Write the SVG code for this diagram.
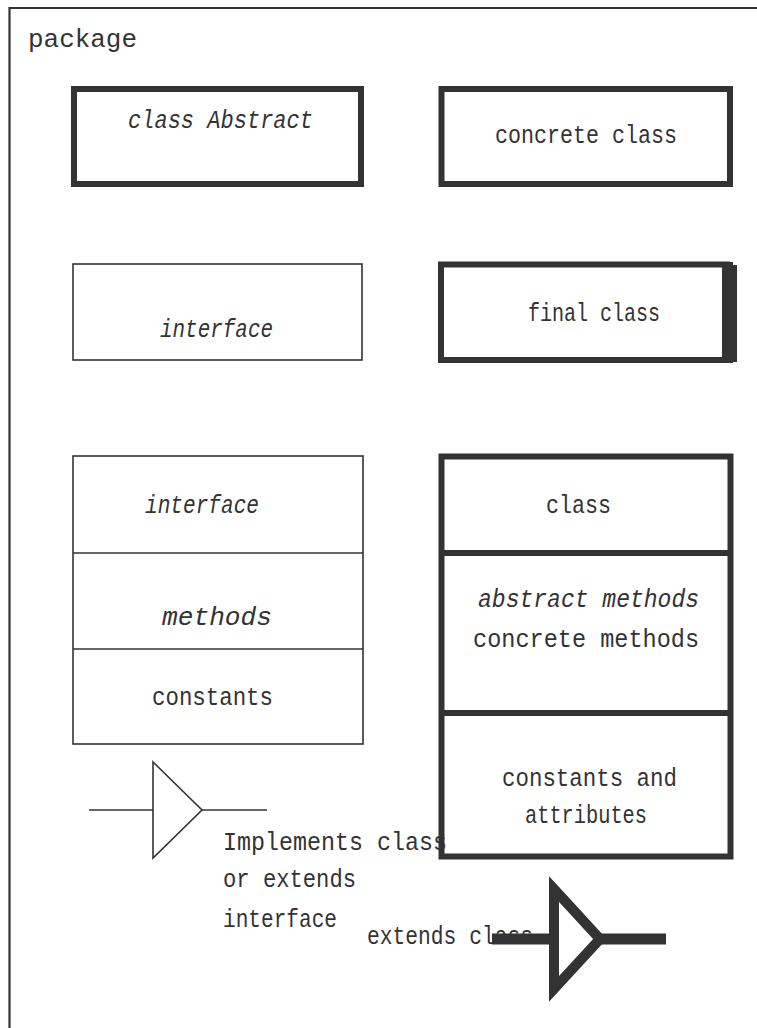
<svg xmlns="http://www.w3.org/2000/svg" width="757" height="1028" viewBox="0 0 757 1028">
<style>
  text { font-family: "Liberation Mono", "Courier New", monospace; font-size: 26px; fill: #333; }
  .it { font-style: italic; }
  .thin { fill: none; stroke: #333; stroke-width: 1.6; }
  .thick { fill: none; stroke: #333; stroke-width: 6; }
  .bar { fill: #333; }
</style>
<rect width="757" height="1028" fill="#fff"/>

<g id="package">
  <path d="M757,8 H9.5 V1028" fill="none" stroke="#333" stroke-width="2.2"/>
  <text x="28" y="47" textLength="109" lengthAdjust="spacingAndGlyphs">package</text>
</g>

<g id="abstract-class">
  <rect class="thick" x="74" y="89" width="287" height="95"/>
  <text class="it" x="128" y="128" textLength="185" lengthAdjust="spacingAndGlyphs">class Abstract</text>
</g>

<g id="concrete-class">
  <rect class="thick" x="441.5" y="89" width="288.5" height="95"/>
  <text x="495" y="143" textLength="182" lengthAdjust="spacingAndGlyphs">concrete class</text>
</g>

<g id="interface">
  <rect class="thin" x="73" y="264" width="289" height="96"/>
  <text class="it" x="160" y="337" textLength="113" lengthAdjust="spacingAndGlyphs">interface</text>
</g>

<g id="final-class">
  <rect class="thick" x="441" y="264.5" width="286" height="95.5"/>
  <rect class="bar" x="722" y="262" width="11" height="101"/>
  <rect class="bar" x="733" y="265" width="4" height="97"/>
  <text x="528" y="321" textLength="132" lengthAdjust="spacingAndGlyphs">final class</text>
</g>

<g id="interface-detail">
  <rect class="thin" x="73" y="456" width="290" height="288"/>
  <line class="thin" x1="73" y1="553" x2="363" y2="553"/>
  <line class="thin" x1="73" y1="649" x2="363" y2="649"/>
  <text class="it" x="145" y="513" textLength="114" lengthAdjust="spacingAndGlyphs">interface</text>
  <text class="it" x="162" y="625" textLength="110" lengthAdjust="spacingAndGlyphs">methods</text>
  <text x="152" y="705" textLength="121" lengthAdjust="spacingAndGlyphs">constants</text>
</g>

<g id="class-detail">
  <rect class="thick" x="441.5" y="456.5" width="289" height="400"/>
  <line class="thick" x1="441.5" y1="553" x2="730.5" y2="553"/>
  <line class="thick" x1="441.5" y1="713" x2="730.5" y2="713"/>
  <text x="546" y="513" textLength="65" lengthAdjust="spacingAndGlyphs">class</text>
  <text class="it" x="478" y="607" textLength="221" lengthAdjust="spacingAndGlyphs">abstract methods</text>
  <text x="473" y="647" textLength="226" lengthAdjust="spacingAndGlyphs">concrete methods</text>
  <text x="502" y="786" textLength="175" lengthAdjust="spacingAndGlyphs">constants and</text>
  <text x="525" y="823" textLength="122" lengthAdjust="spacingAndGlyphs">attributes</text>
</g>

<g id="connectors">
  <g id="legend-implements">
    <line class="thin" x1="89" y1="810" x2="153" y2="810"/>
    <polygon class="thin" points="153,762 202,810 153,858"/>
    <line class="thin" x1="202" y1="810" x2="267" y2="810"/>
  </g>
  <g id="legend-extends-label">
    <text x="367" y="944" textLength="166" lengthAdjust="spacingAndGlyphs">extends class</text>
  </g>
  <g id="legend-extends">
    <line x1="492" y1="939" x2="554" y2="939" stroke="#333" stroke-width="11"/>
    <polygon points="554,889 600,939 554,989" fill="none" stroke="#333" stroke-width="10" stroke-miterlimit="10"/>
    <line x1="600" y1="939" x2="666" y2="939" stroke="#333" stroke-width="11"/>
  </g>
</g>

<g id="implements-label">
  <text x="223" y="850" textLength="224" lengthAdjust="spacingAndGlyphs">Implements class</text>
  <text x="223" y="887" textLength="133" lengthAdjust="spacingAndGlyphs">or extends</text>
  <text x="223" y="927" textLength="114" lengthAdjust="spacingAndGlyphs">interface</text>
</g>
</svg>
